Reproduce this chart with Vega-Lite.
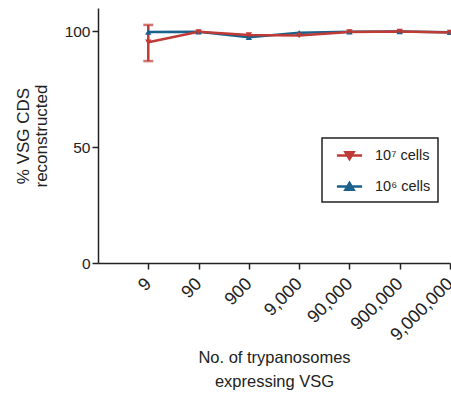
{
  "$schema": "https://vega.github.io/schema/vega-lite/v6.json",
  "autosize": "none",
  "width": 352,
  "height": 255,
  "padding": {"left": 98, "top": 8, "right": 1, "bottom": 135},
  "background": "white",
  "config": {
    "view": {"stroke": null},
    "font": "Liberation Sans",
    "axis": {"grid": false, "domainColor": "#222", "tickColor": "#222", "domainWidth": 1.5, "tickWidth": 1.5, "labelColor": "#222", "titleColor": "#222", "labelFont": "Liberation Sans", "titleFont": "Liberation Sans", "titleFontWeight": "normal"}
  },
  "data": {"values": [
    {"n": 9, "series": "10⁶ cells", "pct": 99.6},
    {"n": 90, "series": "10⁶ cells", "pct": 99.8},
    {"n": 900, "series": "10⁶ cells", "pct": 97.4},
    {"n": 9000, "series": "10⁶ cells", "pct": 99.3},
    {"n": 90000, "series": "10⁶ cells", "pct": 99.8},
    {"n": 900000, "series": "10⁶ cells", "pct": 99.9},
    {"n": 9000000, "series": "10⁶ cells", "pct": 99.5},
    {"n": 9, "series": "10⁷ cells", "pct": 95.2, "lo": 87.1, "hi": 102.7},
    {"n": 90, "series": "10⁷ cells", "pct": 99.7},
    {"n": 900, "series": "10⁷ cells", "pct": 98.4},
    {"n": 9000, "series": "10⁷ cells", "pct": 98.1},
    {"n": 90000, "series": "10⁷ cells", "pct": 99.6},
    {"n": 900000, "series": "10⁷ cells", "pct": 99.9},
    {"n": 9000000, "series": "10⁷ cells", "pct": 99.4}
  ]},
  "encoding": {
    "x": {"field": "n", "type": "quantitative", "scale": {"type": "log", "domain": [0.9, 9000000], "nice": false},
      "axis": {"values": [9, 90, 900, 9000, 90000, 900000, 9000000], "format": ",d", "labelAngle": -45, "labelAlign": "right", "labelBaseline": "middle", "labelFontSize": 18, "labelPadding": 12, "tickSize": 6, "labelOverlap": false, "labelBound": false, "labelFlush": false,
        "title": ["No. of trypanosomes", "expressing VSG"], "titleFontSize": 16.5, "titlePadding": 6, "titleLineHeight": 24}}
  },
  "layer": [
    {
      "mark": {"type": "errorbar", "ticks": {"size": 10, "strokeWidth": 2.5, "color": "#c03a36"}, "color": "#c03a36", "thickness": 2.5},
      "transform": [{"filter": "isValid(datum.lo)"}],
      "encoding": {"y": {"field": "lo", "type": "quantitative", "title": ["% VSG CDS", "reconstructed"]}, "y2": {"field": "hi"}}
    },
    {
      "mark": {"type": "line", "strokeWidth": 2.5},
      "encoding": {
        "y": {"field": "pct", "type": "quantitative", "scale": {"domain": [0, 110], "nice": false},
          "axis": {"values": [0, 50, 100], "labelFontSize": 15.5, "tickSize": 6, "labelPadding": 2,
            "title": ["% VSG CDS", "reconstructed"], "titleFontSize": 17, "titlePadding": 14, "titleLineHeight": 18}},
        "color": {"field": "series", "type": "nominal", "sort": ["10⁷ cells", "10⁶ cells"],
          "scale": {"domain": ["10⁷ cells", "10⁶ cells"], "range": ["#c03a36", "#1a628c"]},
          "legend": {"title": null, "orient": "none", "legendX": 224, "legendY": 130, "strokeColor": "#222", "padding": 7, "rowPadding": 11,
            "labelFontSize": 14.5, "labelColor": "#222", "labelOffset": 15, "symbolOffset": 10, "symbolSize": 324, "symbolStrokeWidth": 2.5,
            "symbolType": "M-1.4,0H1.4",
            "encode": {
              "legend": {"update": {"strokeWidth": {"value": 1.5}, "width": {"value": 114}}},
              "symbols": {"update": {
              "fill": {"scale": "color", "field": "value"},
              "stroke": {"scale": "color", "field": "value"},
              "shape": {"signal": "datum.value === '10⁷ cells' ? 'M-1.4,0H1.4M-0.45,-0.35H0.45L0,0.4Z' : 'M-1.4,0H1.4M-0.45,0.35H0.45L0,-0.4Z'"}
            }}}}
        },
        "order": {"field": "n"}
      }
    },
    {
      "transform": [{"filter": "datum.series === '10⁶ cells'"}],
      "mark": {"type": "point", "filled": true, "size": 40, "opacity": 1, "shape": "triangle-up", "color": "#1a628c"},
      "encoding": {"y": {"field": "pct", "type": "quantitative"}}
    },
    {
      "transform": [{"filter": "datum.series === '10⁷ cells'"}],
      "mark": {"type": "point", "filled": true, "size": 40, "opacity": 1, "shape": "triangle-down", "color": "#c03a36"},
      "encoding": {"y": {"field": "pct", "type": "quantitative"}}
    }
  ]
}
